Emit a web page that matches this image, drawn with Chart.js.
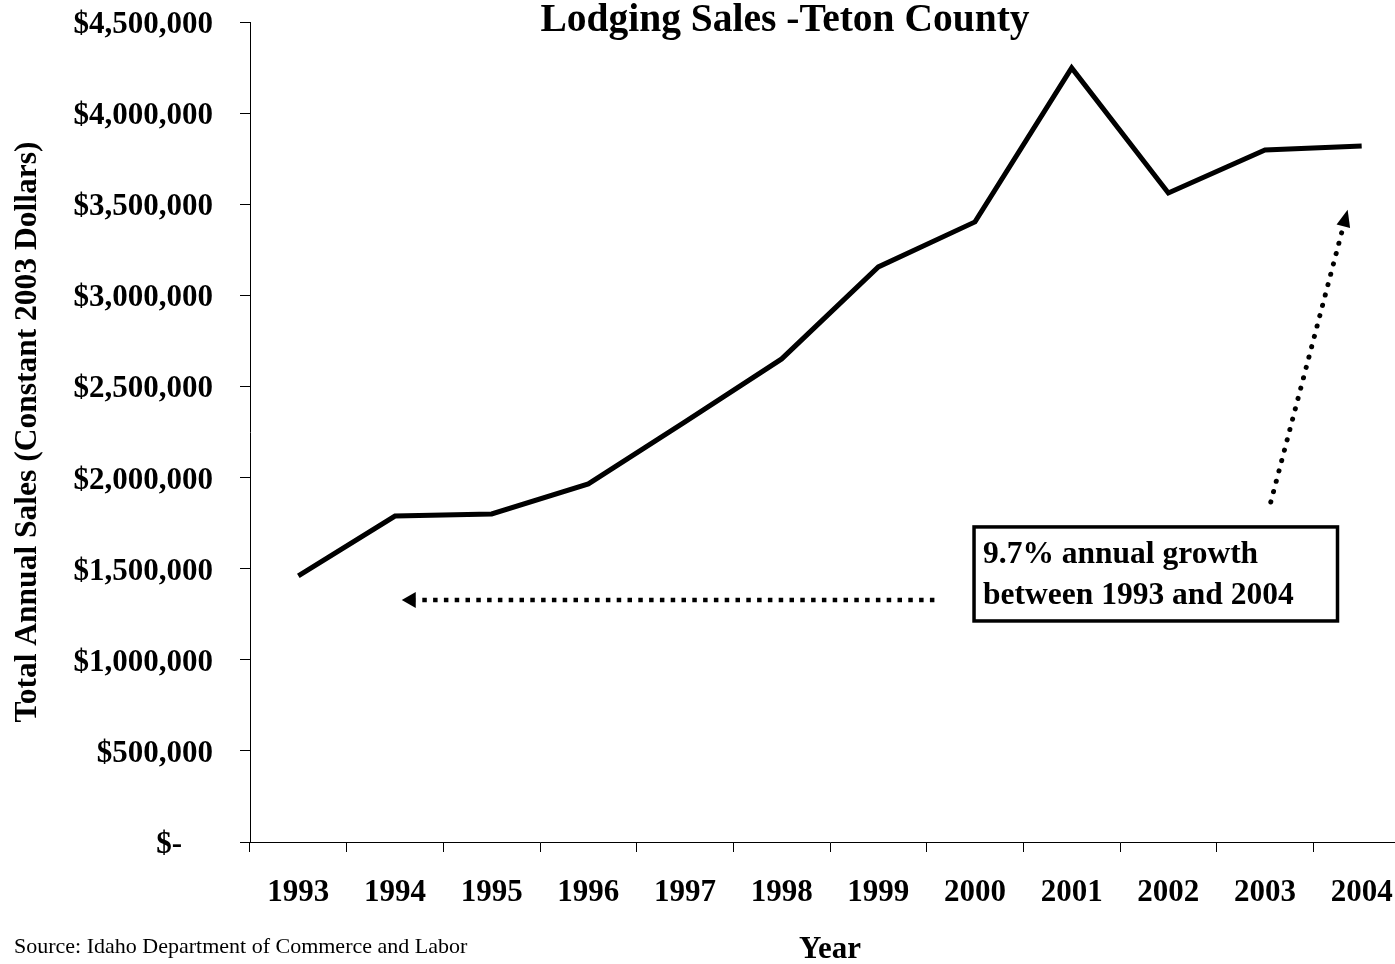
<!DOCTYPE html>
<html>
<head>
<meta charset="utf-8">
<script src="https://cdn.jsdelivr.net/npm/chart.js@4.4.1/dist/chart.umd.min.js"></script>
<style>
  html, body { margin: 0; padding: 0; background: #fff; overflow: hidden; }
  #wrap { width: 1420px; height: 964px; position: relative; }
</style>
</head>
<body>
<div id="wrap"><canvas id="c" width="1420" height="964"></canvas></div>
<script>
// ---- data ----
const years = ['1993','1994','1995','1996','1997','1998','1999','2000','2001','2002','2003','2004'];
const sales = [1460000, 1789000, 1800000, 1965000, 2305000, 2651000, 3156000, 3403000, 4248000, 3562000, 3798000, 3820000];
const yMin = 0;
const yMax = 4500000;
const yStep = 500000;
const chartTitle = 'Lodging Sales -Teton County';
const yTitle = 'Total Annual Sales (Constant 2003 Dollars)';
const xTitle = 'Year';
const sourceText = 'Source: Idaho Department of Commerce and Labor';
const noteLines = ['9.7% annual growth', 'between 1993 and 2004'];

const SERIF = '"Liberation Serif", "Times New Roman", serif';

function fmtMoney(v) {
  if (v === 0) return '$-    ';
  return '$' + v.toLocaleString('en-US');
}

const decor = {
  id: 'decor',
  afterDatasetsDraw(chart) {
    const ctx = chart.ctx;
    const xs = chart.scales.x, ys = chart.scales.y;
    const X = v => xs.getPixelForValue(v);
    const Y = v => ys.getPixelForValue(v);
    ctx.save();
    ctx.fillStyle = '#000';
    ctx.strokeStyle = '#000';

    // title
    ctx.font = 'bold 39.5px ' + SERIF;
    ctx.textAlign = 'center';
    ctx.textBaseline = 'alphabetic';
    ctx.fillText(chartTitle, 785, 31);

    // source
    ctx.font = '22px ' + SERIF;
    ctx.textAlign = 'left';
    ctx.fillText(sourceText, 14, 953);

    // annotation box (in data units)
    const bx0 = X(6.99), bx1 = X(10.75), by0 = Y(1729000), by1 = Y(1213000);
    ctx.lineWidth = 3.5;
    ctx.strokeRect(bx0, by0, bx1 - bx0, by1 - by0);
    ctx.font = 'bold 31.5px ' + SERIF;
    ctx.textBaseline = 'middle';
    ctx.fillText(noteLines[0], bx0 + 9, by0 + 28);
    ctx.fillText(noteLines[1], bx0 + 9, by0 + 69);

    // horizontal dotted arrow
    const hy = Y(1328000);
    const hx0 = X(6.58), hx1 = X(1.07);
    ctx.beginPath();
    ctx.setLineDash([4.5, 6.3]);
    ctx.lineWidth = 4.5;
    ctx.lineCap = 'butt';
    ctx.moveTo(hx0, hy);
    ctx.lineTo(hx1 + 14, hy);
    ctx.stroke();
    ctx.setLineDash([]);
    ctx.beginPath();
    ctx.moveTo(hx1, hy);
    ctx.lineTo(hx1 + 14, hy - 8);
    ctx.lineTo(hx1 + 14, hy + 8);
    ctx.closePath();
    ctx.fill();

    // diagonal dotted arrow
    const dx0 = X(10.06), dy0 = Y(1866000);
    const tx = X(10.855), ty = Y(3469000);
    const ang = Math.atan2(ty - dy0, tx - dx0);
    const headLen = 17, headW = 7;
    const bxh = tx - headLen * Math.cos(ang), byh = ty - headLen * Math.sin(ang);
    ctx.beginPath();
    ctx.setLineDash([0.1, 10.6]);
    ctx.lineWidth = 5;
    ctx.lineCap = 'round';
    ctx.moveTo(dx0, dy0);
    ctx.lineTo(bxh - 4 * Math.cos(ang), byh - 4 * Math.sin(ang));
    ctx.stroke();
    ctx.setLineDash([]);
    ctx.beginPath();
    ctx.moveTo(tx, ty);
    ctx.lineTo(bxh + headW * Math.sin(ang), byh - headW * Math.cos(ang));
    ctx.lineTo(bxh - headW * Math.sin(ang), byh + headW * Math.cos(ang));
    ctx.closePath();
    ctx.fill();
    ctx.restore();
  }
};

new Chart(document.getElementById('c'), {
  type: 'line',
  data: {
    labels: years,
    datasets: [{
      data: sales,
      borderColor: '#000',
      borderWidth: 5,
      pointRadius: 0,
      pointHoverRadius: 0,
      tension: 0,
      fill: false,
      borderJoinStyle: 'miter',
      borderCapStyle: 'butt'
    }]
  },
  options: {
    responsive: false,
    animation: false,
    layout: { padding: { top: 22, right: 10, left: 0, bottom: 0 } },
    plugins: { legend: { display: false }, title: { display: false }, tooltip: { enabled: false } },
    scales: {
      x: {
        offset: true,
        grid: { offset: true, drawOnChartArea: false, drawTicks: true, tickLength: 10, color: '#000', lineWidth: 1 },
        border: { display: true, color: '#000', width: 1 },
        ticks: { color: '#000', padding: 22, maxRotation: 0, autoSkip: false, font: { family: SERIF, size: 31, weight: 'bold' } },
        title: { display: true, text: xTitle, color: '#000', padding: 0, font: { family: SERIF, size: 31, weight: 'bold', lineHeight: 0.9 } },
        afterFit(s) { s.height = 122; s.paddingLeft = 0; s.paddingRight = 0; }
      },
      y: {
        min: yMin, max: yMax,
        grid: { drawOnChartArea: false, drawTicks: true, tickLength: 10, color: '#000', lineWidth: 1 },
        border: { display: true, color: '#000', width: 1 },
        ticks: { stepSize: yStep, color: '#000', padding: 27, labelOffset: 3, callback: v => fmtMoney(v), font: { family: SERIF, size: 31, weight: 'bold' } },
        title: { display: true, text: yTitle, color: '#000', padding: { top: 9, bottom: 0 }, font: { family: SERIF, size: 31.5, weight: 'bold', lineHeight: 1.2 } },
        afterFit(s) { s.width = 250; s.paddingTop = 0; s.paddingBottom = 0; }
      }
    }
  },
  plugins: [decor]
});
</script>
</body>
</html>
